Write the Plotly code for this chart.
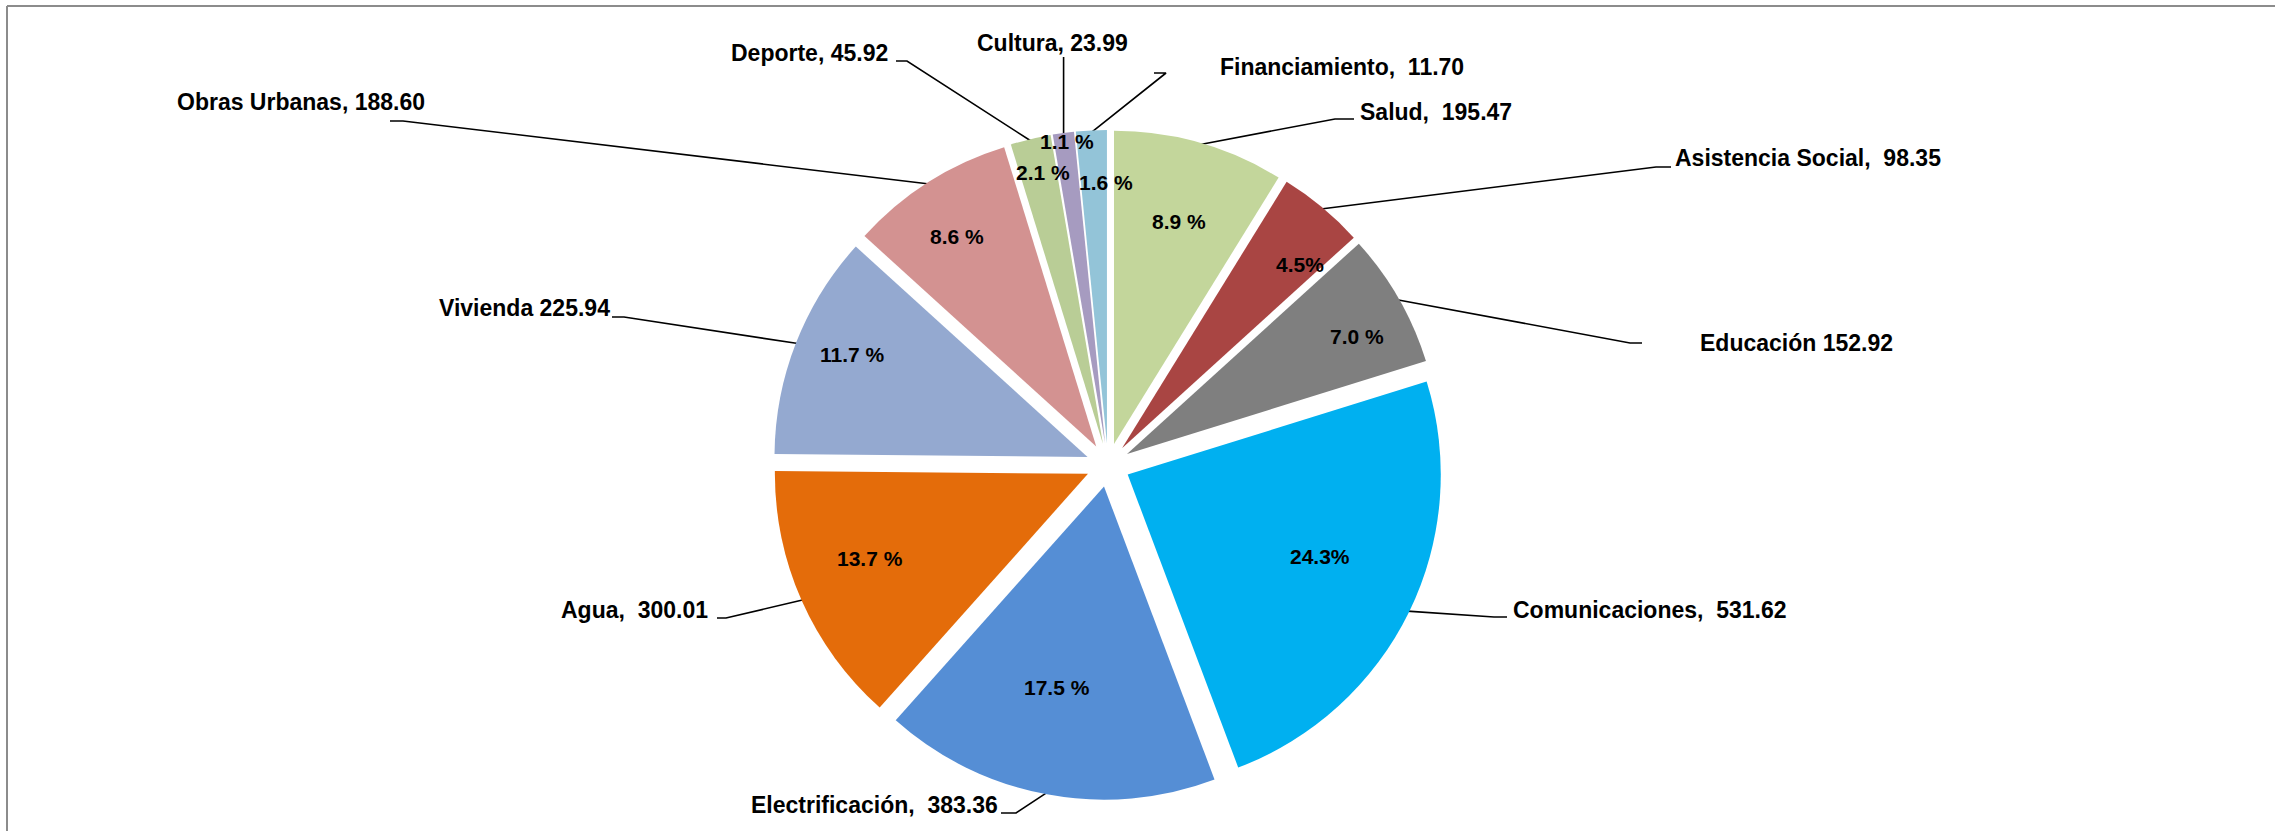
import math
import plotly.graph_objects as go

# ---------------- data ----------------
categories = ["Salud", "Asistencia Social", "Educación", "Comunicaciones",
              "Electrificación", "Agua", "Vivienda", "Obras Urbanas",
              "Deporte", "Cultura", "Financiamiento"]
amounts = [195.47, 98.35, 152.92, 531.62, 383.36, 300.01, 225.94, 188.60,
           45.92, 23.99, 11.70]
shares = [8.9, 4.5, 7.0, 24.3, 17.5, 13.7, 11.7, 8.6, 2.1, 1.1, 1.6]
share_text = ["8.9 %", "4.5%", "7.0 %", "24.3%", "17.5 %", "13.7 %",
              "11.7 %", "8.6 %", "2.1 %", "1.1 %", "1.6 %"]
separators = [",\u00a0 ", ",\u00a0 ", " ", ",\u00a0 ", ",\u00a0 ", ",\u00a0 ",
              " ", ", ", ", ", ", ", ",\u00a0 "]

# ---------------- style / layout ----------------
colors = ["#C3D69B", "#A94543", "#7F7F7F", "#00B0F0", "#558ED5", "#E46C0A",
          "#94A9D0", "#D39291", "#B9CD96", "#A69BC0", "#93C4D8"]

W, H = 2275, 831
CX, CY = 1108, 465
HALF = 335
PULL = 0.07
R = HALF / (1 + PULL)

# outside label placement (pixel positions): x, y, xanchor
label_pos = [
    (1359, 112, "left"),
    (1674, 158, "left"),
    (1699, 343, "left"),
    (1512, 610, "left"),
    (999, 805, "right"),
    (709, 610, "right"),
    (611, 308, "right"),
    (176, 102, "left"),
    (889, 53, "right"),
    (1052, 43, "center"),
    (1219, 67, "left"),
]
# leader-line stubs near labels: (x_inner, x_outer, y); None -> vertical line
stubs = [
    (1335, 1354, 119),
    (1656, 1671, 167),
    (1630, 1642, 343),
    (1494, 1507, 617),
    (1016, 1001, 813),
    (726, 717, 618),
    (624, 612, 317),
    (403, 390, 121),
    (907, 896, 61),
    (None, None, 57),
    (1166, 1154, 73),
]
# percentage label placement (pixel centres)
pct_pos = [
    (1179, 221), (1300, 264), (1357, 336), (1320, 556), (1057, 687),
    (870, 558), (852, 354), (957, 236), (1043, 172), (1067, 141), (1106, 182),
]

LABEL_FONT = dict(family="Liberation Sans, Arial, sans-serif", size=23, color="black")
PCT_FONT = dict(family="Liberation Sans, Arial, sans-serif", size=21, color="black")

fig = go.Figure()

fig.add_trace(go.Pie(
    labels=categories,
    values=shares,
    sort=False,
    direction="clockwise",
    rotation=0,
    pull=PULL,
    marker=dict(colors=colors, line=dict(width=0)),
    textinfo="none",
    hoverinfo="label+value",
    showlegend=False,
    domain=dict(x=[(CX - 420) / W, (CX + 420) / W],
                y=[1 - (CY + HALF) / H, 1 - (CY - HALF) / H]),
))

# leader lines computed from slice mid-angles
total = sum(shares)
cum = 0.0
r_anchor = R * (1 + PULL) - 2
annotations = []
for i, cat in enumerate(categories):
    mid = (cum + shares[i] / 2) / total * 2 * math.pi
    cum += shares[i]
    ax = CX + r_anchor * math.sin(mid)
    ay = CY - r_anchor * math.cos(mid)
    xa, xb, ys = stubs[i]
    if xa is None:
        xs, yv = [ax, ax], [ys, ay + 10]
    else:
        xs, yv = [ax, xa, xb], [ay, ys, ys]
    fig.add_trace(go.Scatter(x=xs, y=yv, mode="lines",
                             line=dict(color="black", width=1.6),
                             hoverinfo="skip", showlegend=False))
    lx, ly, anc = label_pos[i]
    annotations.append(dict(
        x=lx, y=ly, xref="x", yref="y", xanchor=anc, yanchor="middle",
        text="<b>%s%s%.2f</b>" % (cat, separators[i], amounts[i]),
        showarrow=False, font=LABEL_FONT, borderpad=0))
    px, py = pct_pos[i]
    annotations.append(dict(
        x=px, y=py, xref="x", yref="y", xanchor="center", yanchor="middle",
        text="<b>%s</b>" % share_text[i], showarrow=False, font=PCT_FONT,
        borderpad=0))

shapes = [
    dict(type="line", xref="x", yref="y", x0=7, y0=6, x1=7, y1=900,
         line=dict(color="#8C8C8C", width=2)),
    dict(type="line", xref="x", yref="y", x0=7, y0=6, x1=2400, y1=6,
         line=dict(color="#8C8C8C", width=2)),
]

fig.update_layout(
    width=W, height=H,
    margin=dict(l=0, r=0, t=0, b=0, autoexpand=False),
    paper_bgcolor="white", plot_bgcolor="white",
    xaxis=dict(range=[0, W], visible=False, fixedrange=True, domain=[0, 1]),
    yaxis=dict(range=[H, 0], visible=False, fixedrange=True, domain=[0, 1]),
    annotations=annotations,
    shapes=shapes,
    showlegend=False,
)

fig.write_html("out.html", include_plotlyjs=True, config={"displayModeBar": False},
               post_script="document.body.style.margin='0';document.body.style.overflow='hidden';")
